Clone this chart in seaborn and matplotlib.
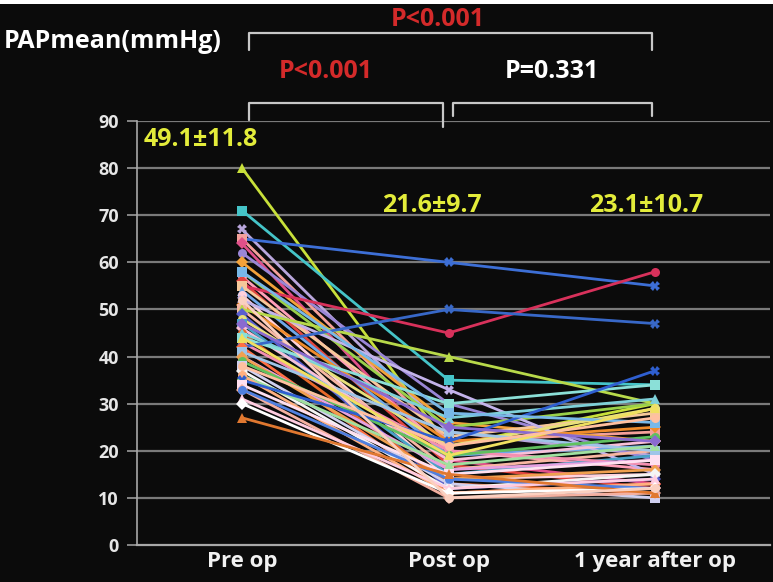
import numpy as np
import pandas as pd
import matplotlib
matplotlib.use("Agg")
import matplotlib.pyplot as plt
import seaborn as sns
from matplotlib.lines import Line2D
from matplotlib.patches import Rectangle

# ---------------- data ----------------
times = ["Pre op", "Post op", "1 year after op"]
pre_op = [80, 71, 67, 65, 65, 64, 62, 60, 58, 57, 56, 55, 55, 54, 53, 52, 51, 50,
          50, 49, 48, 47, 46, 45, 45, 44, 43, 42, 42, 41, 40, 40, 39, 38, 37, 36,
          36, 35, 34, 33, 33, 31, 30, 27, 58, 52, 47, 44, 38]
post_op = [21, 35, 24, 60, 22, 18, 30, 26, 25, 20, 17, 45, 23, 19, 14, 33, 22, 16,
           40, 12, 21, 15, 18, 13, 27, 30, 20, 50, 11, 24, 16, 14, 19, 13, 12, 17,
           11, 22, 15, 10, 14, 12, 11, 15, 28, 10, 25, 19, 21]
year_after = [30, 34, 19, 55, 24, 13, 18, 22, 30, 16, 12, 58, 28, 21, 15, 15, 25, 20,
              30, 14, 29, 19, 22, 11, 31, 34, 17, 47, 13, 20, 18, 16, 23, 10, 15, 21,
              13, 37, 18, 11, 12, 14, 12, 11, 26, 12, 22, 29, 27]
y_ticks = [0, 10, 20, 30, 40, 50, 60, 70, 80, 90]
group_labels = ["49.1\u00b111.8", "21.6\u00b19.7", "23.1\u00b110.7"]
p_labels = ["P<0.001", "P<0.001", "P=0.331"]
y_title = "PAPmean(mmHg)"

patients = [f"p{i:02d}" for i in range(len(pre_op))]
rows = []
for pid, a, b, c in zip(patients, pre_op, post_op, year_after):
    rows += [(pid, times[0], a), (pid, times[1], b), (pid, times[2], c)]
df = pd.DataFrame(rows, columns=["patient", "time", "value"])

# ---------------- style ----------------
colors = [
    "#c8e03a", "#45c4c8", "#b9a6dc", "#3d6fd6", "#f4a09a", "#e0508a", "#9a86d6",
    "#f3a23a", "#9ad04a", "#ff9fb8", "#e2463f", "#d8315b", "#f6c89a", "#6fa8e8",
    "#ffd1dc", "#c3b3ea", "#f08c2c", "#f7b7a3", "#b8d94a", "#5a5fd0", "#e8e07a",
    "#4aa3c8", "#f8c0d8", "#e86a2a", "#7ed0d8", "#8be0d8", "#f48fb1", "#3868c8",
    "#ff7043", "#9fc5e8", "#e6a0e0", "#f0a050", "#60c060", "#d0d0f0", "#f5f5f5",
    "#a0e0a0", "#ffb080", "#2f5fd0", "#ffe0f0", "#f4b0a0", "#5080e0", "#ffcce0",
    "#ffffff", "#e07830", "#78b8e8", "#fbd0c0", "#8a6ad0", "#f0e060", "#ffc0a0",
]
markers = [
    "^", "s", "X", "X", "s", "D", "o", "D", "^", "o", "D", "o", "s", "^",
    "o", "X", "D", "s", "^", "D", "o", "s", "D", "o", "^", "s", "o", "X",
    "D", "s", "^", "D", "o", "s", "D", "^", "o", "X", "s", "D", "o", "^",
    "D", "^", "s", "o", "D", "^", "o",
]

BG = "#0b0b0b"
sns.set_theme(style="dark")
plt.rcParams["font.family"] = ["Open Sans", "DejaVu Sans"]

W, H = 773, 582
fig = plt.figure(figsize=(W / 100, H / 100), dpi=100, facecolor=BG)
ax = fig.add_axes([137 / W, 1 - 545 / H, (770 - 137) / W, (545 - 121) / H])
ax.set_facecolor(BG)

sns.lineplot(data=df, x="time", y="value", hue="patient", style="patient",
             palette=colors, markers=markers, dashes=False, sort=False,
             estimator=None, legend=False, linewidth=2.0, markersize=6.5,
             markeredgewidth=0, ax=ax)

unit = (655 - 242) / 2.0
ax.set_xlim((137 - 242) / unit, (770 - 242) / unit)
ax.set_ylim(0, 90)
ax.set_yticks(y_ticks)
ax.set_yticklabels([str(t) for t in y_ticks], color="#e6e6e6",
                   fontsize=13, fontweight="bold")
ax.set_xticks([0, 1, 2])
ax.set_xticklabels(times, color="#f2f2f2", fontsize=16, fontweight="bold")
ax.set_xlabel("")
ax.set_ylabel("")
ax.grid(False)
ax.tick_params(axis="y", length=7, width=1.2, color="#9a9a9a", pad=6, left=True)
ax.tick_params(axis="x", length=0, pad=4)
for yv in y_ticks[1:]:
    ax.axhline(yv, color="#7a7a7a", lw=1.6, zorder=0)
for side in ["top", "right"]:
    ax.spines[side].set_visible(False)
ax.spines["left"].set_color("#a8a8a8")
ax.spines["left"].set_linewidth(1.2)
ax.spines["bottom"].set_color("#a8a8a8")
ax.spines["bottom"].set_linewidth(1.6)


def px(x, y):
    return x / W, 1 - y / H


def bracket(x0, x1, y, yl, yr):
    xs = [x0, x0, x1, x1]
    ys = [yl, y, y, yr]
    fx = [x / W for x in xs]
    fy = [1 - v / H for v in ys]
    fig.add_artist(Line2D(fx, fy, transform=fig.transFigure,
                          color="#c8c8c8", lw=1.6))


bracket(249, 652, 33, 50, 50)
bracket(249, 443, 103, 120, 127)
bracket(453, 652, 103, 116, 116)

yellow = "#e3ec3a"
fig.text(*px(4, 42), y_title, color="white", fontsize=18, fontweight="bold",
         ha="left", va="center")
fig.text(*px(438, 20), p_labels[0], color="#d42a2a", fontsize=18,
         fontweight="bold", ha="center", va="center")
fig.text(*px(326, 71), p_labels[1], color="#d42a2a", fontsize=18,
         fontweight="bold", ha="center", va="center")
fig.text(*px(552, 71), p_labels[2], color="white", fontsize=18,
         fontweight="bold", ha="center", va="center")
fig.text(*px(201, 140), group_labels[0], color=yellow, fontsize=18,
         fontweight="bold", ha="center", va="center")
fig.text(*px(432, 205), group_labels[1], color=yellow, fontsize=18,
         fontweight="bold", ha="center", va="center")
fig.text(*px(646, 205), group_labels[2], color=yellow, fontsize=18,
         fontweight="bold", ha="center", va="center")

fig.add_artist(Rectangle((0, 1 - 4 / H), 1, 4 / H, transform=fig.transFigure,
                         color="white", lw=0))

fig.savefig("out.png", dpi=100, facecolor=BG)
